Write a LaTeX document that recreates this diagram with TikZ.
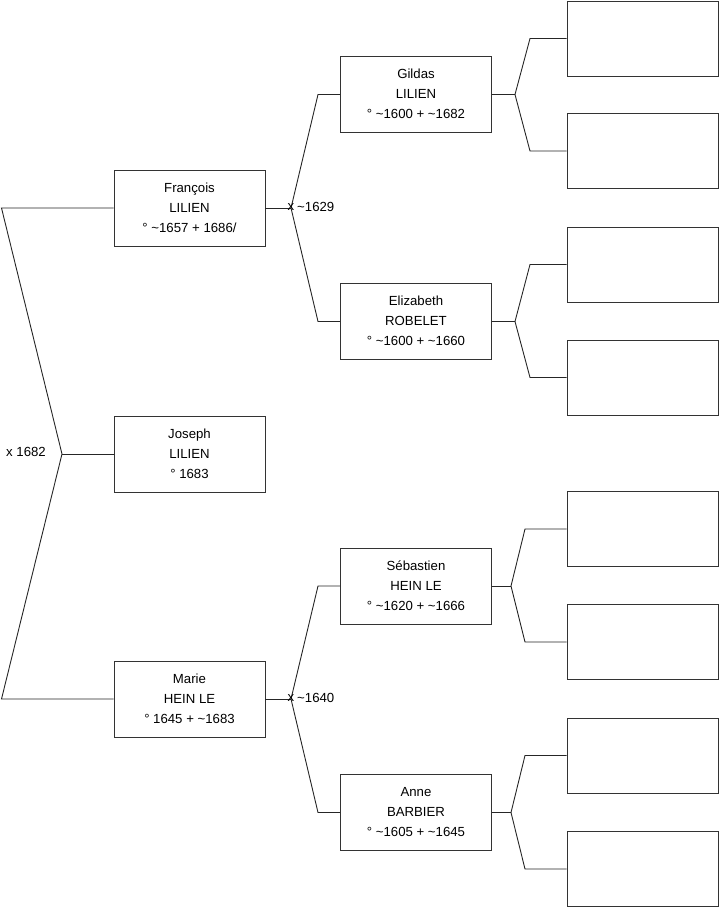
\documentclass[tikz,border=0pt]{standalone}
\usepackage{fontspec}
\setmainfont{Liberation Sans}
\newcommand\mytl{\textasciitilde}
\newcommand\ptxt[1]{\raisebox{2pt}{\begin{tabular}{@{}c@{}}#1\end{tabular}}}
\begin{document}
\begin{tikzpicture}[x=1pt,y=-1pt,
  person/.style={draw=black!80, fill=white, line width=0.9pt, minimum width=151pt, minimum height=76pt, inner sep=0pt, font=\fontsize{13.2}{20}\selectfont},
  emptybox/.style={draw=black!80, fill=white, line width=0.9pt, minimum width=151pt, minimum height=75pt, inner sep=0pt},
  link/.style={draw=black!85, line width=0.9pt},
  lbl/.style={font=\fontsize{13.2}{15}\selectfont, inner sep=0pt}]
\useasboundingbox (0,0) rectangle (719,908);
% persons
\node[person] (francois) at (189.5,208) {\ptxt{François\\LILIEN\\° \mytl1657 + 1686/}};
\node[person] (joseph) at (189.5,454) {\ptxt{Joseph\\LILIEN\\° 1683}};
\node[person] (marie) at (189.5,699) {\ptxt{Marie\\HEIN LE\\° 1645 + \mytl1683}};
\node[person] (gildas) at (416,94.5) {\ptxt{Gildas\\LILIEN\\° \mytl1600 + \mytl1682}};
\node[person] (elizabeth) at (416,321.5) {\ptxt{Elizabeth\\ROBELET\\° \mytl1600 + \mytl1660}};
\node[person] (sebastien) at (416,586) {\ptxt{Sébastien\\HEIN LE\\° \mytl1620 + \mytl1666}};
\node[person] (anne) at (416,812.5) {\ptxt{Anne\\BARBIER\\° \mytl1605 + \mytl1645}};
% empty boxes
\node[emptybox] (e1) at (642.5,38.5) {};
\node[emptybox] (e2) at (642.5,151) {};
\node[emptybox] (e3) at (642.5,264.5) {};
\node[emptybox] (e4) at (642.5,377.5) {};
\node[emptybox] (e5) at (642.5,529) {};
\node[emptybox] (e6) at (642.5,642) {};
\node[emptybox] (e7) at (642.5,755.5) {};
\node[emptybox] (e8) at (642.5,869) {};
% left structure
\coordinate (l1) at (1.5,208);
\coordinate (l2) at (1.5,699);
\coordinate (j0) at (62,454);
\draw[link] (francois.west) -- (l1) -- (j0) -- (l2) -- (marie.west);
\draw[link] (j0) -- (joseph.west);
\node[lbl] (m0) at (26,451.5) {x 1682};
% father junction
\coordinate (jf) at (291,208);
\coordinate (jfa) at (318,94.5);
\coordinate (jfb) at (318,321.5);
\draw[link] (francois.east) -- (jf);
\draw[link] (gildas.west) -- (jfa) -- (jf) -- (jfb) -- (elizabeth.west);
\node[lbl] (mf) at (291,207) {x};
\node[lbl, anchor=west] (mft) at (297,207) {\mytl1629};
% mother junction
\coordinate (jm) at (291,699);
\coordinate (jma) at (318,586);
\coordinate (jmb) at (318,812.5);
\draw[link] (marie.east) -- (jm);
\draw[link] (sebastien.west) -- (jma) -- (jm) -- (jmb) -- (anne.west);
\node[lbl] (mm) at (291,698) {x};
\node[lbl, anchor=west] (mmt) at (297,698) {\mytl1640};
% Gildas
\coordinate (jg) at (515,94.5);
\coordinate (jga) at (530,38.5);
\coordinate (jgb) at (530,151);
\draw[link] (gildas.east) -- (jg);
\draw[link] (e1.west) -- (jga) -- (jg) -- (jgb) -- (e2.west);
% Elizabeth
\coordinate (je) at (515,321.5);
\coordinate (jea) at (530,264.5);
\coordinate (jeb) at (530,377.5);
\draw[link] (elizabeth.east) -- (je);
\draw[link] (e3.west) -- (jea) -- (je) -- (jeb) -- (e4.west);
% Sebastien
\coordinate (js) at (511,586);
\coordinate (jsa) at (525,529);
\coordinate (jsb) at (525,642);
\draw[link] (sebastien.east) -- (js);
\draw[link] (e5.west) -- (jsa) -- (js) -- (jsb) -- (e6.west);
% Anne
\coordinate (ja) at (511,812.5);
\coordinate (jaa) at (525,755.5);
\coordinate (jab) at (525,869);
\draw[link] (anne.east) -- (ja);
\draw[link] (e7.west) -- (jaa) -- (ja) -- (jab) -- (e8.west);
\end{tikzpicture}
\end{document}
